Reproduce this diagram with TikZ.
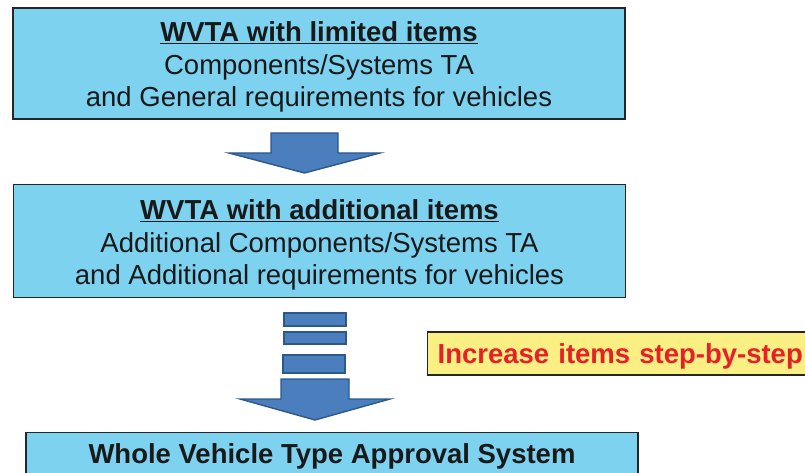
\documentclass[tikz,border=0pt]{standalone}
\usepackage{fontspec}
\setmainfont{Liberation Sans}
\usetikzlibrary{positioning}

\definecolor{boxblue}{RGB}{125,210,240}
\definecolor{arrowblue}{RGB}{74,126,189}
\definecolor{arrowedge}{RGB}{44,88,140}
\definecolor{noteyellow}{RGB}{249,239,130}
\definecolor{notered}{RGB}{232,30,40}

\begin{document}
\begin{tikzpicture}[x=1pt, y=-1pt, every node/.style={font=\fontsize{27.5}{32.5}\selectfont}]
  % Styles
  \tikzset{
    stagebox/.style={draw=black!85, line width=1.2pt, fill=boxblue, minimum width=612pt, align=center, text=black!90},
    note/.style={draw=black!85, line width=1.2pt, fill=noteyellow, text=notered, font=\fontsize{27.5}{32}\selectfont\bfseries},
    blockarrow/.style={draw=arrowedge, line width=1.4pt, fill=arrowblue, line join=miter},
    stepbar/.style={draw=arrowedge, line width=1.4pt, fill=arrowblue}
  }

  \useasboundingbox (0,0) rectangle (805,473);

  % Nodes
  \node[stagebox, minimum height=111pt] (limited) at (319,63.5)
    {\rule{0pt}{27pt}\textbf{\underline{WVTA with limited items}}\\Components/Systems TA\\and General requirements for vehicles};
  \node[stagebox, minimum height=113pt] (additional) at (319.5,241)
    {\rule{0pt}{28pt}\textbf{\underline{WVTA with additional items}}\\Additional Components/Systems TA\\and Additional requirements for vehicles};
  \node[stagebox, anchor=north, font=\fontsize{27.5}{32}\selectfont\bfseries,
        text height=20pt, text depth=40pt, inner ysep=11pt] (whole) at (332,432)
    {Whole Vehicle Type Approval System};

  % Annotation
  \node[note, anchor=west, text width=380pt, align=left, inner xsep=10pt,
        text height=26.5pt, text depth=6pt, minimum height=43pt] (stepnote) at (427,353.5) {Increase items step-by-step};

  % Arrow between the first two boxes
  \draw[blockarrow] (271,133) -- (338,133) -- (338,153) -- (380,153) -- (304.5,173)
    -- (229,153) -- (271,153) -- cycle;

  % Step bars and arrow down to the whole system
  \draw[stepbar] (284,313) rectangle (346,326);
  \draw[stepbar] (284,332) rectangle (346,344);
  \draw[stepbar] (283,355) rectangle (345,373);
  \draw[blockarrow] (281,379) -- (349,379) -- (349,399) -- (390,399) -- (315,420)
    -- (240,399) -- (281,399) -- cycle;
\end{tikzpicture}
\end{document}
